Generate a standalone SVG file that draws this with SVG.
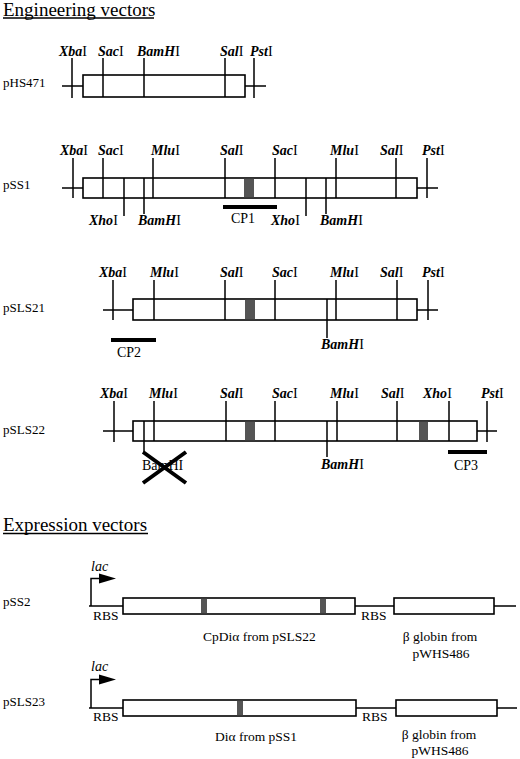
<svg xmlns="http://www.w3.org/2000/svg" width="520" height="759" viewBox="0 0 520 759">
<style>
text{font-family:"Liberation Serif","Times New Roman",serif;fill:#000}
.t{font-size:14px}
.e{font-style:italic;font-weight:bold}
.lab{font-size:13px}
.x{font-size:13.5px}
.title{font-size:19px}
.box{fill:#fff;stroke:#000;stroke-width:1.6}
.ln{stroke:#000;stroke-width:1.5;fill:none}
.bar{stroke:#000;stroke-width:4}
.g{fill:#555}
</style>
<g id="titles">
<text class="title" x="3" y="16">Engineering vectors</text>
<line class="ln" x1="3" y1="18" x2="154" y2="18" stroke-width="1.2"/>
<text class="title" x="3" y="531">Expression vectors</text>
<line class="ln" x1="3" y1="533.5" x2="148" y2="533.5" stroke-width="1.2"/>
</g>

<g id="pHS471">
<text class="lab" x="3" y="87">pHS471</text>
<path class="ln" d="M62,86H83M245,86H266"/>
<rect class="box" x="83" y="75" width="162" height="22"/>
<path class="ln" d="M72,58V98M103,58V97M144,58V97M225,58V97M254,58V98"/>
<text class="t" x="59" y="56"><tspan class="e">Xba</tspan>I</text>
<text class="t" x="98" y="56"><tspan class="e">Sac</tspan>I</text>
<text class="t" x="137" y="56"><tspan class="e">BamH</tspan>I</text>
<text class="t" x="220" y="56"><tspan class="e">Sal</tspan>I</text>
<text class="t" x="250" y="56"><tspan class="e">Pst</tspan>I</text>
</g>

<g id="pSS1">
<text class="lab" x="3" y="189">pSS1</text>
<path class="ln" d="M62,188H83M417,188H438"/>
<rect class="box" x="83" y="178" width="334" height="20"/>
<rect class="g" x="244" y="178.8" width="10" height="18.4"/>
<path class="ln" d="M73,158V198M103,158V198M153,158V198M225,158V198M275,158V198M336,158V198M396,158V198M427,158V198"/>
<path class="ln" d="M124,178V216M144,178V214M306,178V216M326,178V214"/>
<text class="t" x="60" y="155"><tspan class="e">Xba</tspan>I</text>
<text class="t" x="98" y="155"><tspan class="e">Sac</tspan>I</text>
<text class="t" x="151" y="155"><tspan class="e">Mlu</tspan>I</text>
<text class="t" x="220" y="155"><tspan class="e">Sal</tspan>I</text>
<text class="t" x="272" y="155"><tspan class="e">Sac</tspan>I</text>
<text class="t" x="330" y="155"><tspan class="e">Mlu</tspan>I</text>
<text class="t" x="380" y="155"><tspan class="e">Sal</tspan>I</text>
<text class="t" x="422" y="155"><tspan class="e">Pst</tspan>I</text>
<text class="t" x="89" y="225"><tspan class="e">Xho</tspan>I</text>
<text class="t" x="138" y="225"><tspan class="e">BamH</tspan>I</text>
<text class="t" x="271" y="225"><tspan class="e">Xho</tspan>I</text>
<text class="t" x="320" y="225"><tspan class="e">BamH</tspan>I</text>
<line class="bar" x1="223" y1="207" x2="277" y2="207"/>
<text class="t" x="243" y="223" text-anchor="middle">CP1</text>
</g>

<g id="pSLS21">
<text class="lab" x="3" y="312">pSLS21</text>
<path class="ln" d="M103,310H133M417,310H438"/>
<rect class="box" x="133" y="299" width="284" height="21"/>
<rect class="g" x="245" y="299.8" width="10" height="19.4"/>
<path class="ln" d="M113,280V320M154,280V320M225,280V320M275,280V320M336,280V320M397,280V320M428,280V320"/>
<path class="ln" d="M327,299V338"/>
<text class="t" x="99" y="277"><tspan class="e">Xba</tspan>I</text>
<text class="t" x="150" y="277"><tspan class="e">Mlu</tspan>I</text>
<text class="t" x="220" y="277"><tspan class="e">Sal</tspan>I</text>
<text class="t" x="272" y="277"><tspan class="e">Sac</tspan>I</text>
<text class="t" x="330" y="277"><tspan class="e">Mlu</tspan>I</text>
<text class="t" x="380" y="277"><tspan class="e">Sal</tspan>I</text>
<text class="t" x="422" y="277"><tspan class="e">Pst</tspan>I</text>
<text class="t" x="321" y="349"><tspan class="e">BamH</tspan>I</text>
<line class="bar" x1="111" y1="340" x2="156" y2="340"/>
<text class="t" x="117" y="357">CP2</text>
</g>

<g id="pSLS22">
<text class="lab" x="3" y="434">pSLS22</text>
<path class="ln" d="M103,431H133M477,431H497"/>
<rect class="box" x="133" y="421" width="344" height="20"/>
<rect class="g" x="245" y="421.8" width="10" height="18.4"/>
<rect class="g" x="419" y="421.8" width="9" height="18.4"/>
<path class="ln" d="M114,401V442M154,401V441M226,401V441M275,401V441M337,401V441M397,401V441M449,401V441M487,401V442"/>
<path class="ln" d="M144,421V453M327,421V457"/>
<text class="t" x="100" y="398"><tspan class="e">Xba</tspan>I</text>
<text class="t" x="149" y="398"><tspan class="e">Mlu</tspan>I</text>
<text class="t" x="220" y="398"><tspan class="e">Sal</tspan>I</text>
<text class="t" x="272" y="398"><tspan class="e">Sac</tspan>I</text>
<text class="t" x="330" y="398"><tspan class="e">Mlu</tspan>I</text>
<text class="t" x="381" y="398"><tspan class="e">Sal</tspan>I</text>
<text class="t" x="423" y="398"><tspan class="e">Xho</tspan>I</text>
<text class="t" x="481" y="398"><tspan class="e">Pst</tspan>I</text>
<text class="t" x="321" y="469"><tspan class="e">BamH</tspan>I</text>
<text class="t" x="142" y="470">BamHI</text>
<path class="bar" d="M143,452L186,483M143,483L186,452"/>
<line class="bar" x1="448" y1="452" x2="487" y2="452"/>
<text class="t" x="466" y="470" text-anchor="middle">CP3</text>
</g>

<g id="pSS2">
<text class="lab" x="3" y="606">pSS2</text>
<text class="t" x="91" y="571" font-style="italic">lac</text>
<path class="ln" d="M91,606V578.5H101"/>
<polygon points="99,573.5 99,583.5 116,578.5"/>
<path class="ln" d="M89,606H123M355,606H394M494,606H516"/>
<rect class="box" x="123" y="598" width="232" height="16"/>
<rect class="g" x="201" y="598.8" width="6" height="14.4"/>
<rect class="g" x="320" y="598.8" width="6" height="14.4"/>
<rect class="box" x="394" y="598" width="100" height="16"/>
<text class="x" x="93" y="620">RBS</text>
<text class="x" x="361" y="620">RBS</text>
<text class="x" x="203" y="641">CpDiα from pSLS22</text>
<text class="x" x="440" y="641" text-anchor="middle">β globin from</text>
<text class="x" x="441" y="658" text-anchor="middle">pWHS486</text>
</g>

<g id="pSLS23">
<text class="lab" x="3" y="706">pSLS23</text>
<text class="t" x="91" y="671" font-style="italic">lac</text>
<path class="ln" d="M91,708V679.5H101"/>
<polygon points="99,674.5 99,684.5 116,679.5"/>
<path class="ln" d="M89,708H123M356,708H396M497,708H517"/>
<rect class="box" x="123" y="700" width="233" height="16"/>
<rect class="g" x="237" y="700.8" width="6" height="14.4"/>
<rect class="box" x="396" y="700" width="101" height="16"/>
<text class="x" x="93" y="721">RBS</text>
<text class="x" x="362" y="721">RBS</text>
<text class="x" x="215" y="741">Diα from pSS1</text>
<text class="x" x="439" y="739" text-anchor="middle">β globin from</text>
<text class="x" x="440" y="755" text-anchor="middle">pWHS486</text>
</g>
</svg>
